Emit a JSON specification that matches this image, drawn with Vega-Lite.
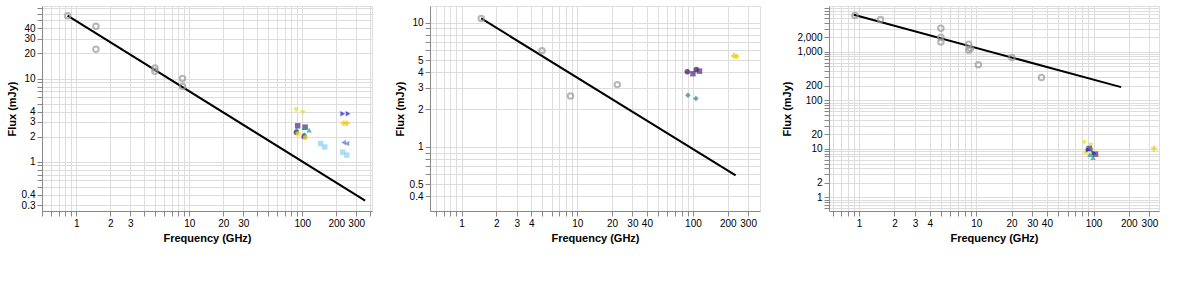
{
  "hconcat": [
    {
      "width": 330, "height": 205,
      "layer": [
        {"data": {"values": [{"freq": 0.835, "flux": 57}, {"freq": 360, "flux": 0.34}]},
         "mark": {"type": "line", "color": "black"},
         "encoding": {
           "x": {"field": "freq", "type": "quantitative", "title": "Frequency (GHz)", "scale": {"type": "log", "domain": [0.496, 414], "nice": false}},
           "y": {"field": "flux", "type": "quantitative", "title": "Flux (mJy)", "scale": {"type": "log", "domain": [0.255, 74.5], "nice": false}}
         }},
        {"data": {"values": [
            {"freq": 0.835, "flux": 57}, {"freq": 1.49, "flux": 42.5}, {"freq": 1.49, "flux": 22.5},
            {"freq": 4.96, "flux": 13.4}, {"freq": 4.96, "flux": 12.2}, {"freq": 8.7, "flux": 10.0}, {"freq": 8.7, "flux": 8.0}]},
         "mark": {"type": "point", "color": "#999999"},
         "encoding": {"x": {"field": "freq", "type": "quantitative"}, "y": {"field": "flux", "type": "quantitative"}}},
        {"data": {"values": [
            {"s": "2019-08-13", "freq": 88.6, "flux": 2.25}, {"s": "2019-08-13", "freq": 104, "flux": 2.0},
            {"s": "2019-08-18", "freq": 91, "flux": 2.7}, {"s": "2019-08-18", "freq": 106, "flux": 2.6},
            {"s": "2021-08-21", "freq": 89, "flux": 2.35}, {"s": "2021-08-21", "freq": 104, "flux": 2.1},
            {"s": "2021-11-07", "freq": 104, "flux": 2.57}, {"s": "2021-11-07", "freq": 115, "flux": 2.4},
            {"s": "2023-05-30", "freq": 88, "flux": 4.2}, {"s": "2023-05-30", "freq": 101, "flux": 3.9},
            {"s": "2023-10-13", "freq": 92, "flux": 2.15}, {"s": "2023-10-13", "freq": 107, "flux": 1.94},
            {"s": "2019-10-13", "freq": 232, "flux": 1.7}, {"s": "2019-10-13", "freq": 248, "flux": 1.65},
            {"s": "2019-11-18", "freq": 228, "flux": 3.76}, {"s": "2019-11-18", "freq": 254, "flux": 3.76},
            {"s": "2022-04-03", "freq": 232, "flux": 2.9}, {"s": "2022-04-03", "freq": 248, "flux": 2.9},
            {"s": "2019-08-13 ", "freq": 145.5, "flux": 1.65}, {"s": "2019-08-13 ", "freq": 158, "flux": 1.5},
            {"s": "2019-08-13  ", "freq": 228, "flux": 1.3}, {"s": "2019-08-13  ", "freq": 248, "flux": 1.2}]},
         "mark": {"type": "point", "filled": true},
         "encoding": {
           "x": {"field": "freq", "type": "quantitative"},
           "y": {"field": "flux", "type": "quantitative"},
           "color": {"field": "s", "type": "nominal", "legend": null,
             "scale": {"domain": ["2019-08-13","2019-08-18","2021-08-21","2021-11-07","2023-05-30","2023-10-13","2019-10-13","2019-11-18","2022-04-03","2019-08-13 ","2019-08-13  "],
                       "range": ["#440154","#472c7a","#277f8e","#1fa088","#d8e219","#fde725","#4b79d8","#1a1adb","#f2c500","#87cefa","#8fd0f0"]}},
           "shape": {"field": "s", "type": "nominal", "legend": null,
             "scale": {"domain": ["2019-08-13","2019-08-18","2021-08-21","2021-11-07","2023-05-30","2023-10-13","2019-10-13","2019-11-18","2022-04-03","2019-08-13 ","2019-08-13  "],
                       "range": ["circle","square","diamond","triangle-up","triangle-down","circle","triangle-left","triangle-right","cross","square","square"]}}
         }}
      ]
    },
    {
      "width": 330, "height": 205,
      "layer": [
        {"data": {"values": [{"freq": 1.48, "flux": 10.8}, {"freq": 234, "flux": 0.59}]},
         "mark": {"type": "line", "color": "black"},
         "encoding": {
           "x": {"field": "freq", "type": "quantitative", "title": "Frequency (GHz)", "scale": {"type": "log", "domain": [0.534, 380], "nice": false}},
           "y": {"field": "flux", "type": "quantitative", "title": "Flux (mJy)", "scale": {"type": "log", "domain": [0.305, 13.6], "nice": false}}
         }},
        {"data": {"values": [{"freq": 1.48, "flux": 10.8}, {"freq": 4.96, "flux": 5.95}, {"freq": 8.75, "flux": 2.57}, {"freq": 22.2, "flux": 3.17}]},
         "mark": {"type": "point", "color": "#999999"},
         "encoding": {"x": {"field": "freq", "type": "quantitative"}, "y": {"field": "flux", "type": "quantitative"}}},
        {"data": {"values": [
            {"s": "2021-08-14", "freq": 89.4, "flux": 4.03}, {"s": "2021-08-14", "freq": 107, "flux": 4.2},
            {"s": "2021-11-04", "freq": 100, "flux": 3.88}, {"s": "2021-11-04", "freq": 114, "flux": 4.07},
            {"s": "2023-10-08", "freq": 90.6, "flux": 2.6}, {"s": "2023-10-08", "freq": 106, "flux": 2.45},
            {"s": "2022-04-03", "freq": 226, "flux": 5.4}, {"s": "2022-04-03", "freq": 238, "flux": 5.35}]},
         "mark": {"type": "point", "filled": true},
         "encoding": {
           "x": {"field": "freq", "type": "quantitative"},
           "y": {"field": "flux", "type": "quantitative"},
           "color": {"field": "s", "type": "nominal", "legend": null,
             "scale": {"domain": ["2021-08-14","2021-11-04","2023-10-08","2022-04-03"], "range": ["#440154","#472d7b","#fde725","#90ee90"]}},
           "shape": {"field": "s", "type": "nominal", "legend": null,
             "scale": {"domain": ["2021-08-14","2021-11-04","2023-10-08","2022-04-03"], "range": ["circle","square","diamond","cross"]}}
         }}
      ]
    },
    {
      "width": 330, "height": 205,
      "layer": [
        {"data": {"values": [{"freq": 0.9, "flux": 5800}, {"freq": 172, "flux": 187}]},
         "mark": {"type": "line", "color": "black"},
         "encoding": {
           "x": {"field": "freq", "type": "quantitative", "title": "Frequency (GHz)", "scale": {"type": "log", "domain": [0.553, 362], "nice": false}},
           "y": {"field": "flux", "type": "quantitative", "title": "Flux (mJy)", "scale": {"type": "log", "domain": [0.526, 8750], "nice": false}}
         }},
        {"data": {"values": [
            {"freq": 0.92, "flux": 5600}, {"freq": 1.52, "flux": 4600}, {"freq": 4.98, "flux": 3050}, {"freq": 4.98, "flux": 2000},
            {"freq": 4.98, "flux": 1590}, {"freq": 8.6, "flux": 1420}, {"freq": 8.9, "flux": 1170}, {"freq": 8.6, "flux": 1080},
            {"freq": 10.4, "flux": 543}, {"freq": 20.1, "flux": 763}, {"freq": 36, "flux": 295}]},
         "mark": {"type": "point", "color": "#999999"},
         "encoding": {"x": {"field": "freq", "type": "quantitative"}, "y": {"field": "flux", "type": "quantitative"}}},
        {"data": {"values": [
            {"s": "2019-07-14", "freq": 99, "flux": 6.6}, {"s": "2019-07-14", "freq": 93, "flux": 7.6},
            {"s": "2021-07-11", "freq": 83.5, "flux": 13.5}, {"s": "2021-07-11", "freq": 95, "flux": 12.0},
            {"s": "2021-08-22", "freq": 86, "flux": 8.5}, {"s": "2021-08-22", "freq": 97, "flux": 9.2},
            {"s": "2021-11-04", "freq": 104, "flux": 7.8}, {"s": "2021-11-04", "freq": 92, "flux": 10.2},
            {"s": "2023-10-11", "freq": 94, "flux": 9.6},
            {"s": "2023-10-25", "freq": 89.8, "flux": 9.5}, {"s": "2023-10-25", "freq": 100.7, "flux": 8.1},
            {"s": "2023-05-19", "freq": 328, "flux": 10.2}]},
         "mark": {"type": "point", "filled": true},
         "encoding": {
           "x": {"field": "freq", "type": "quantitative"},
           "y": {"field": "flux", "type": "quantitative"},
           "color": {"field": "s", "type": "nominal", "legend": null,
             "scale": {"domain": ["2019-07-14","2021-07-11","2021-08-22","2021-11-04","2023-10-11","2023-10-25","2023-05-19"],
                       "range": ["#440154","#2a788e","#21918c","#22a884","#fde725","#fde725","#d8e219"]}},
           "shape": {"field": "s", "type": "nominal", "legend": null,
             "scale": {"domain": ["2019-07-14","2021-07-11","2021-08-22","2021-11-04","2023-10-11","2023-10-25","2023-05-19"],
                       "range": ["circle","square","diamond","triangle-up","triangle-down","circle","cross"]}}
         }}
      ]
    }
  ]
}
